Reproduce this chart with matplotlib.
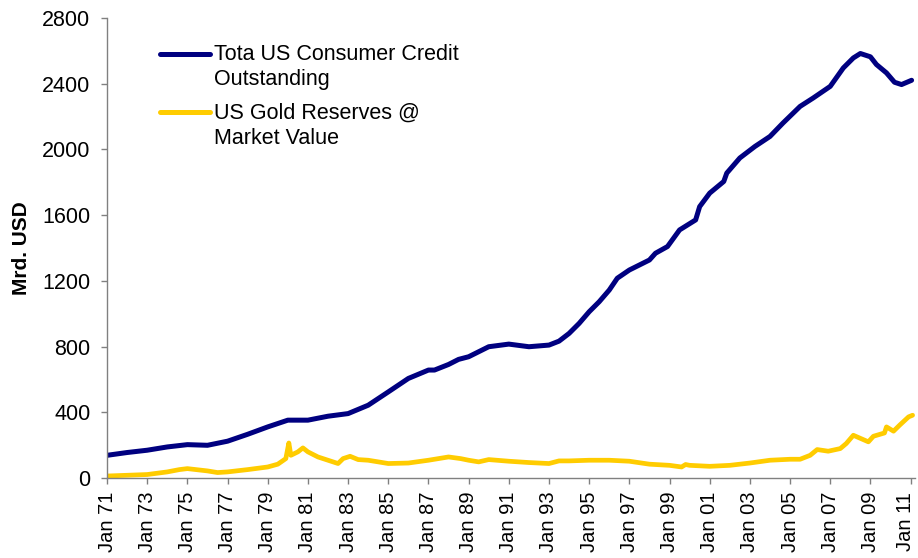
import numpy as np
import matplotlib
matplotlib.use("Agg")
import matplotlib.pyplot as plt
import matplotlib.transforms as mtransforms

plt.rcParams["font.family"] = ["Liberation Sans", "DejaVu Sans"]

# Total US consumer credit outstanding (Mrd. USD)
credit_year = [1971.0, 1972.0, 1973.0, 1974.0, 1975.0, 1976.0, 1977.0, 1978.0,
               1979.0, 1980.0, 1981.0, 1982.0, 1983.0, 1984.0, 1985.0, 1986.0,
               1987.0, 1987.3, 1988.0, 1988.5, 1989.0, 1990.0, 1991.0, 1992.0,
               1993.0, 1993.5, 1994.0, 1994.5, 1995.0, 1995.5, 1996.0, 1996.4,
               1997.0, 1998.0, 1998.3, 1998.9, 1999.5, 2000.3, 2000.5, 2001.0,
               2001.7, 2001.85, 2002.5, 2003.25, 2004.0, 2004.65, 2005.5,
               2006.15, 2007.0, 2007.65, 2008.15, 2008.5, 2009.0, 2009.3,
               2009.8, 2010.2, 2010.55, 2011.05]
credit_value = [138, 155, 169, 189, 203, 199, 224, 266,
                311, 352, 352, 376, 392, 443, 524, 606,
                657, 657, 691, 722, 738, 799, 815, 799,
                809, 833, 880, 941, 1012, 1073, 1144, 1216,
                1266, 1327, 1368, 1409, 1510, 1571, 1652, 1734,
                1805, 1856, 1948, 2018, 2079, 2161, 2262,
                2313, 2384, 2496, 2557, 2584, 2564, 2517,
                2466, 2409, 2395, 2421]

# US gold reserves at market value (Mrd. USD)
gold_year = [1971.0, 1973.0, 1974.0, 1974.6, 1975.0, 1976.0, 1976.5, 1977.0,
             1978.0, 1979.0, 1979.5, 1979.9, 1980.05, 1980.15, 1980.5, 1980.75,
             1981.0, 1981.5, 1982.0, 1982.5, 1982.75, 1983.1, 1983.5, 1984.0,
             1985.0, 1986.0, 1987.0, 1988.0, 1988.6, 1989.0, 1989.5, 1990.0,
             1991.0, 1992.0, 1993.0, 1993.5, 1994.0, 1995.0, 1996.0, 1997.0,
             1998.0, 1999.0, 1999.6, 1999.8, 2000.0, 2001.0, 2002.0, 2003.0,
             2004.0, 2005.0, 2005.5, 2006.0, 2006.35, 2006.9, 2007.5, 2007.8,
             2008.15, 2008.9, 2009.15, 2009.7, 2009.8, 2010.15, 2010.45,
             2010.9, 2011.1]
gold_value = [12, 21, 37, 51, 57, 43, 33, 37,
              51, 67, 84, 118, 213, 138, 159, 183,
              159, 128, 108, 88, 118, 132, 112, 108,
              88, 91, 108, 128, 118, 108, 98, 112,
              102, 94, 88, 104, 104, 108, 108, 102,
              84, 77, 67, 82, 77, 71, 77, 91,
              108, 114, 114, 138, 173, 163, 179, 210,
              260, 220, 254, 274, 311, 285, 321,
              372, 382]

series_labels = ["Tota US Consumer Credit\nOutstanding",
                 "US Gold Reserves @\nMarket Value"]
series_colors = ["#000080", "#FFCC00"]

tick_years = list(range(1971, 2012, 2))
tick_labels = ["Jan %02d" % (y % 100) for y in tick_years]

W, H = 918, 558
fig = plt.figure(figsize=(W / 100, H / 100), dpi=100)
ax = fig.add_axes([0.1166, 0.1434, 0.8797, 0.8243])

ax.plot(credit_year, credit_value, color=series_colors[0], linewidth=3.6,
        solid_capstyle="round")
ax.plot(gold_year, gold_value, color=series_colors[1], linewidth=3.4,
        solid_capstyle="round")

ax.set_xlim(1971, 2011.2)
ax.set_ylim(0, 2800)
ax.set_yticks(np.arange(0, 2801, 400))
ax.set_xticks(tick_years)
ax.set_xticklabels(tick_labels, rotation=90)
ax.set_ylabel("Mrd. USD", fontsize=15, fontweight="bold", labelpad=8)

for side in ["top", "right"]:
    ax.spines[side].set_visible(False)
for side in ["left", "bottom"]:
    ax.spines[side].set_color("#808080")
    ax.spines[side].set_linewidth(1.0)
ax.tick_params(axis="both", colors="#808080", labelcolor="black",
               length=4, width=1.0, direction="out")
ax.tick_params(axis="y", labelsize=15.5, pad=8)
ax.tick_params(axis="x", labelsize=14.5, pad=6)

# last label sits at the right edge of the figure, nudge it in a little
last = ax.get_xticklabels()[-1]
last.set_transform(last.get_transform() +
                   mtransforms.ScaledTranslation(-0.05, 0, fig.dpi_scale_trans))

# legend drawn by hand: handle sits at the first text line, as in Excel
for i, (lab, col) in enumerate(zip(series_labels, series_colors)):
    y_px = 53.5 + i * 58.5
    fig.add_artist(plt.Line2D([160 / W, 210 / W], [1 - y_px / H, 1 - y_px / H],
                              color=col, linewidth=3.6, solid_capstyle="round"))
    fig.text(214 / W, 1 - (y_px - 9.5) / H, lab, fontsize=15.5, va="top",
             ha="left", linespacing=1.25)

fig.savefig("out.png", dpi=100)
